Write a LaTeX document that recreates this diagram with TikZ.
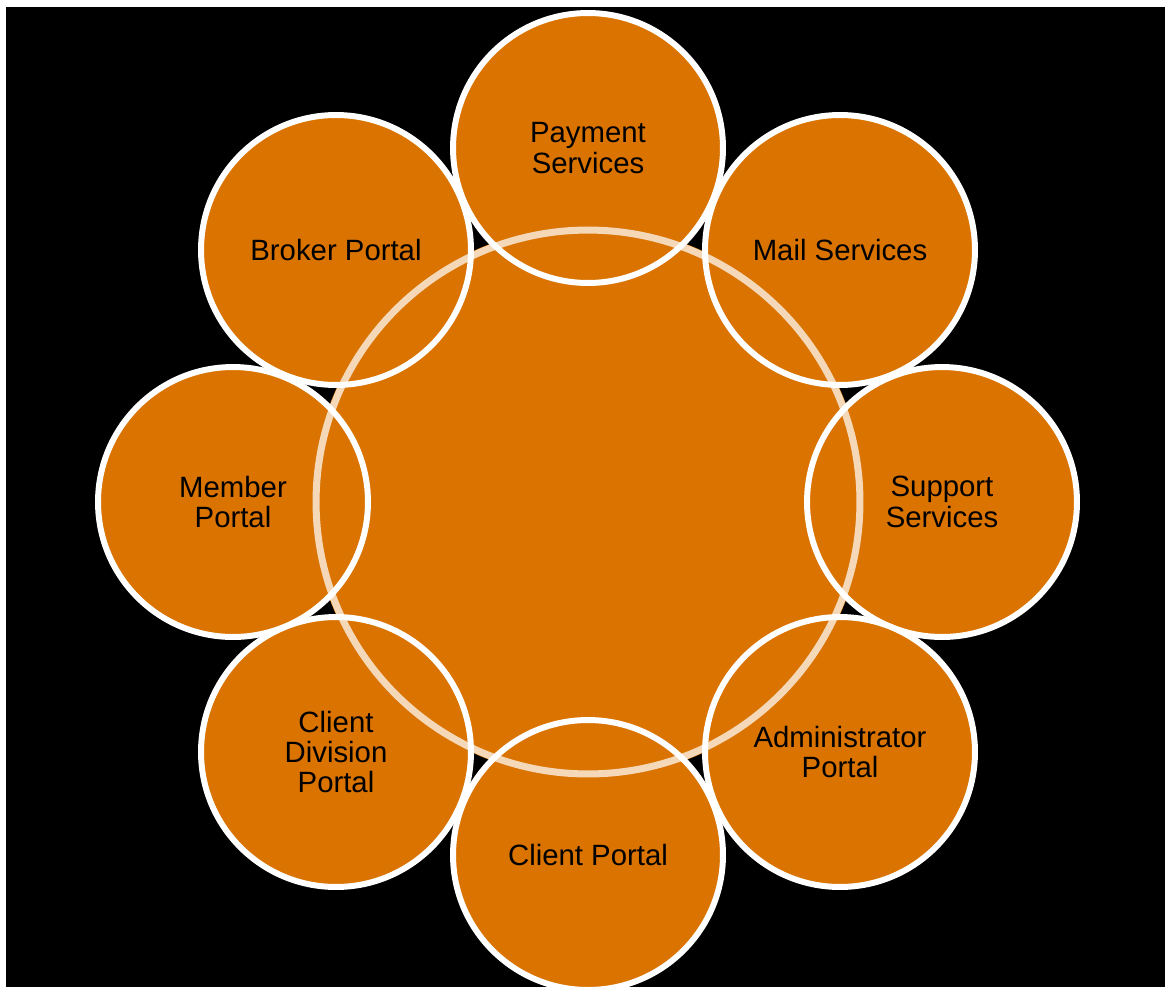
\documentclass[tikz,border=0pt]{standalone}
\usepackage{fontspec}
\setmainfont{Liberation Sans}
\definecolor{portalorange}{HTML}{DA7300}
\begin{document}
\begin{tikzpicture}[x=0.02cm, y=-0.02cm,
			hub/.style = {shape=circle, fill=portalorange, minimum size=11.04cm, inner sep=0pt},
			ring/.style = {shape=circle, draw=white, draw opacity=0.72, line width=4pt, minimum size=10.88cm, inner sep=0pt},
			spoke/.style = {shape=circle, draw=white, line width=3.4pt, fill=portalorange, minimum size=5.4cm,
				inner sep=0pt, align=center, font=\fontsize{16.7}{17.2}\selectfont}]
			
			\clip (0,0) rectangle (1165,987);
			\fill[white] (0,0) rectangle (1165,987);
			\fill[black] (6,7) rectangle (1165,987);
			
			\node[hub] (hub) at (588,502) {};
			
			\node[spoke] (payment) at (588,148) {Payment\\Services};
			\node[spoke] (mail) at (840,250) {Mail Services};
			\node[spoke] (support) at (942,502) {Support\\Services};
			\node[spoke] (admin) at (840,752) {Administrator\\Portal};
			\node[spoke] (client) at (588,855) {Client Portal};
			\node[spoke] (division) at (336,752) {Client\\Division\\Portal};
			\node[spoke] (member) at (233,502) {Member\\Portal};
			\node[spoke] (broker) at (336,250) {Broker Portal};
			
			\node[ring] (ring) at (hub) {};
			\end{tikzpicture}
\end{document}
